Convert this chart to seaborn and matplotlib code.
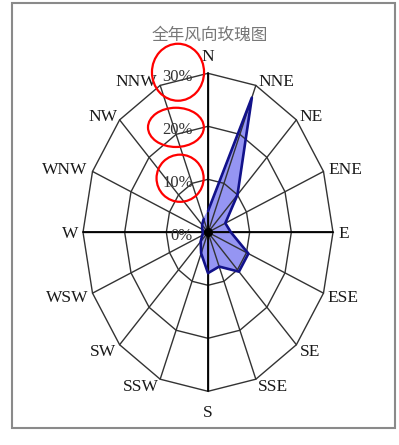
import numpy as np
import pandas as pd
import matplotlib
matplotlib.use("Agg")
import matplotlib.pyplot as plt
from matplotlib.patches import Ellipse, Rectangle
import seaborn as sns

# --- DATA ---
directions = ['N', 'NNE', 'NE', 'ENE', 'E', 'ESE', 'SE', 'SSE',
              'S', 'SSW', 'SW', 'WSW', 'W', 'WNW', 'NW', 'NNW']
freq = [4.0, 27.5, 10.0, 4.5, 5.5, 10.5, 10.5, 7.0,
        7.7, 4.3, 2.5, 1.5, 1.2, 1.5, 2.0, 2.7]
rings = [10, 20, 30]
ring_labels = ['10%', '20%', '30%']
title = "全年风向玫瑰图"

# --- STYLE ---
sns.set_style("white")
plt.rcParams['font.family'] = ['Liberation Serif', 'DejaVu Serif']

theta = np.deg2rad(np.arange(16) * 22.5)
sx, sy = np.sin(theta), np.cos(theta)

fig = plt.figure(figsize=(3.99, 4.45), dpi=100)
ax = fig.add_axes([0, 0, 1, 1])
ax.set_xlim(-49.92, 45.84)
ax.set_ylim(-40.13, 43.83)
ax.axis('off')

# grid: rings + spokes as segments
segs = []
k = 0
for r in rings:
    for i in range(17):
        segs.append((k, r * sx[i % 16], r * sy[i % 16]))
    k += 1
for i in range(16):
    segs.append((k, 0, 0))
    segs.append((k, 30 * sx[i], 30 * sy[i]))
    k += 1
grid = pd.DataFrame(segs, columns=['seg', 'x', 'y'])
sns.lineplot(data=grid, x='x', y='y', units='seg', estimator=None, sort=False,
             color='#333333', lw=1.0, ax=ax, zorder=2)
# main axes
ax.plot([-30, 30], [0, 0], color='black', lw=1.3, zorder=2)
ax.plot([0, 0], [-30, 30], color='black', lw=1.3, zorder=2)

# rose polygon
rx = np.array(freq) * sx
ry = np.array(freq) * sy
ax.fill(rx, ry, color='#9595f3', zorder=1)
rose = pd.DataFrame({'x': np.append(rx, rx[0]), 'y': np.append(ry, ry[0])})
sns.lineplot(data=rose, x='x', y='y', sort=False, color='#12128a', lw=1.9,
             ax=ax, zorder=3)
ax.scatter([0], [0], s=30, color='black', zorder=4)

# direction labels (pixel offsets from the outer vertex)
offsets = [(0, 16, 'center'), (2.5, 3.7, 'left'), (3.5, 3, 'left'), (5, 1.4, 'left'),
           (5, -2, 'left'), (3.5, -4.7, 'left'), (3, -7.4, 'left'), (2, -8, 'left'),
           (0, -22, 'center'), (-1.5, -8, 'right'), (-4, -7.4, 'right'), (-4, -4.7, 'right'),
           (-5, -2, 'right'), (-5.5, 1.4, 'right'), (-2.5, 3, 'right'), (-3, 3.7, 'right')]
for i, d in enumerate(directions):
    dx, dy, ha = offsets[i]
    ax.annotate(d, xy=(30 * sx[i], 30 * sy[i]), xytext=(dx, dy),
                textcoords='offset pixels', ha=ha, va='center',
                fontsize=12.5, color='#1a1a1a')

# percent labels
for r, lab in zip([0] + rings, ['0%'] + ring_labels):
    ax.annotate(lab, xy=(0, r), xytext=(-15, -4), textcoords='offset pixels',
                ha='right', va='center', fontsize=12, color='#333333')

# red highlight ellipses
for cx, cy, w, h in [(-7.2, 30.2, 12.5, 10.75), (-7.7, 19.8, 13.4, 7.4), (-6.7, 10.2, 11.3, 8.9)]:
    ax.add_patch(Ellipse((cx, cy), w, h, fill=False, edgecolor='red', lw=1.6, zorder=5))

ax.text(0.5, 37.2, title, ha='center', va='center', fontsize=12, color='#777777',
        family=['Noto Sans CJK SC', 'DejaVu Sans'])

# outer frame
ax.add_patch(Rectangle((12 / 399, 17 / 445), 383 / 399, 425 / 445, transform=ax.transAxes,
                       fill=False, edgecolor='#8a8a8a', lw=1.5, clip_on=False))

fig.savefig("out.png", dpi=100)
